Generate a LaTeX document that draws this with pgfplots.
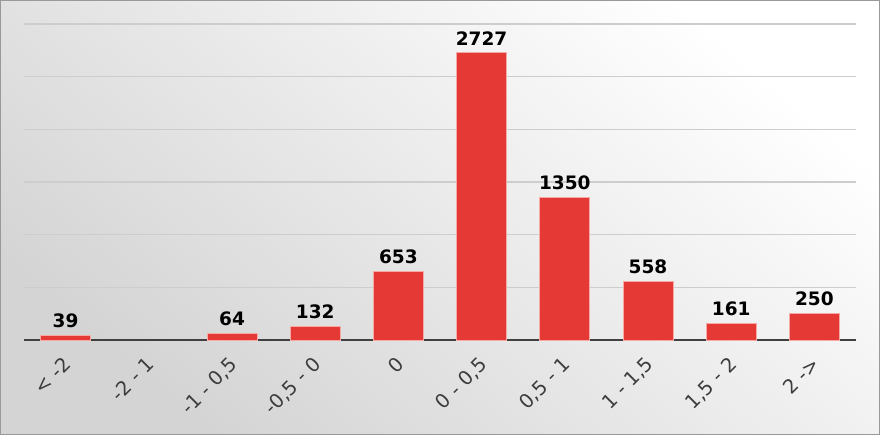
\documentclass[border=0pt]{standalone}
\usepackage{pgfplots}
\pgfplotsset{compat=1.18}
\usepackage{fontspec}
\setmainfont{DejaVu Sans}
\definecolor{barred}{RGB}{229,57,53}
\definecolor{baredge}{RGB}{245,170,165}
\definecolor{gridgray}{RGB}{205,205,205}
\definecolor{basegray}{RGB}{64,64,64}
\definecolor{ticktext}{RGB}{60,60,60}
\begin{document}
\begin{tikzpicture}[x=1pt,y=1pt]
\shade[top color=white, bottom color=black!17, shading angle=-40] (0,0) rectangle (880,435);
\draw[black!40, line width=1pt] (0.5,0.5) rectangle (879.5,434.5);
\begin{axis}[
  at={(24pt,95pt)}, anchor=south west,
  scale only axis, width=832pt, height=316pt,
  xmin=-0.5, xmax=9.5, ymin=0, ymax=3000,
  ytick={500,1000,...,3000}, yticklabels={},
  ymajorgrids, grid style={gridgray, line width=1.6pt},
  axis x line*=bottom, axis y line*=left,
  y axis line style={draw=none},
  x axis line style={basegray, line width=2pt, -},
  xtick={0,...,9},
  xticklabels={{< -2},{-2 - 1},{-1 - 0,5},{-0,5 - 0},{0},{0 - 0,5},{0,5 - 1},{1 - 1,5},{1,5 - 2},{2 ->}},
  major tick length=0pt,
  xticklabel style={rotate=45, anchor=north east, font=\fontsize{19.5}{22}\selectfont, text=ticktext, xshift=-10pt, yshift=-5pt},
  ybar, bar width=50pt,
  /pgf/number format/.cd, 1000 sep={}, assume math mode=true, /pgfplots/.cd,
  nodes near coords,
  nodes near coords style={font=\fontsize{18.5}{21}\selectfont\bfseries, text=black, yshift=4pt},
  clip=false,
]
\addplot[fill=barred, draw=baredge, line width=0.8pt] coordinates {
(0,39) (2,64) (3,132) (4,653) (5,2727) (6,1350) (7,558) (8,161) (9,250)};
\end{axis}
\pgfresetboundingbox
\path (0,0) rectangle (880,435);
\end{tikzpicture}
\end{document}
